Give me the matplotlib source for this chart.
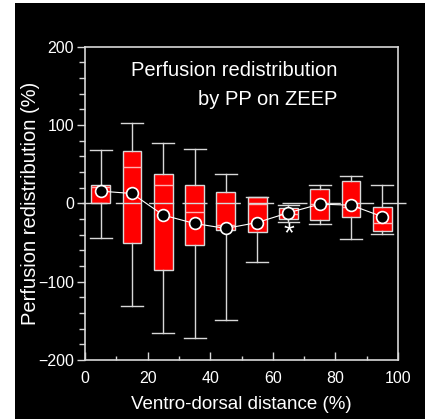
import matplotlib.pyplot as plt
from matplotlib.patches import Rectangle

# ventro-dorsal position of each lung slice (%)
positions = [5, 15, 25, 35, 45, 55, 65, 75, 85, 95]

# box statistics per slice (% redistribution)
whisker_hi = [67.5, 103, 76.5, 69, 37, 8.3, -2.3, 24, 35, 23]
q3 = [24, 67, 37, 24, 14, 8.3, -5.3, 17.8, 28.8, -4.4]
medians = [21, 45.8, 23.3, -10.8, -28, -1, -14, -0.6, -5, -24.5]
q1 = [0, -51, -85.4, -53.4, -33.4, -37, -20.6, -21.5, -18, -35.5]
whisker_lo = [-44, -131.4, -165.5, -171.5, -149, -75, -23.6, -26.6, -46, -39.4]
means = [15.6, 12.6, -15, -25.7, -32, -24.5, -12, -1, -2.3, -17]

significant = [65]
asterisk_y = -40

fg = '#d8d8d8'
plt.rcParams['font.family'] = ['Liberation Sans', 'DejaVu Sans']

fig = plt.figure(figsize=(4.25, 4.19), dpi=100, facecolor='white')
fig.patches.append(Rectangle((15 / 425, 0), 1, 416 / 419, transform=fig.transFigure,
                             facecolor='black', edgecolor='none', zorder=-10))
ax = fig.add_axes([0.2, 0.1408, 0.7365, 0.7477])
ax.set_facecolor('black')

stats = []
for i in range(len(positions)):
    stats.append(dict(med=medians[i], q1=q1[i], q3=q3[i],
                      whislo=whisker_lo[i], whishi=whisker_hi[i], fliers=[]))

ax.bxp(stats, positions=positions, widths=6, capwidths=7, patch_artist=True,
       manage_ticks=False,
       boxprops=dict(facecolor='#ff0000', edgecolor=fg, linewidth=1),
       medianprops=dict(color='#ffb0b0', linewidth=1),
       whiskerprops=dict(color=fg, linewidth=1),
       capprops=dict(color=fg, linewidth=1))

# zero reference line
ax.plot([-1, 102.5], [0, 0], color=fg, lw=1, linestyle=(0, (18, 6)),
        clip_on=False, zorder=4)

# mean values joined by a line
ax.plot(positions, means, color='white', lw=0.8, zorder=5)
ax.plot(positions, means, 'o', ms=8.5, mfc='black', mec='white', mew=1.2, zorder=6)

for xs in significant:
    ax.text(xs, asterisk_y, '*', color='white', fontsize=20, ha='center', va='center')

ax.text(80.6, 170, 'Perfusion redistribution', color='white', fontsize=14.5,
        ha='right', va='center')
ax.text(80.6, 132, 'by PP on ZEEP', color='white', fontsize=14.5,
        ha='right', va='center')

ax.set_xlim(0, 100)
ax.set_ylim(-200, 200)
ax.set_xticks([0, 20, 40, 60, 80, 100])
ax.set_xticks([10, 30, 50, 70, 90], minor=True)
ax.set_yticks([-200, -100, 0, 100, 200])
ax.set_yticks(range(-180, 200, 20), minor=True)

for s in ax.spines.values():
    s.set_color(fg)
    s.set_linewidth(1.2)

ax.tick_params(axis='x', which='both', direction='in', colors=fg, labelcolor='white',
               labelsize=11.5, pad=8)
ax.tick_params(axis='x', which='major', length=6, width=1)
ax.tick_params(axis='x', which='minor', length=3, width=1)
ax.tick_params(axis='y', which='both', direction='out', colors=fg, labelcolor='white',
               labelsize=11.5, pad=2)
ax.tick_params(axis='y', which='major', length=6, width=1)
ax.tick_params(axis='y', which='minor', length=4, width=1)

ax.set_xlabel('Ventro-dorsal distance (%)', color='white', fontsize=13.5, labelpad=7)
ax.set_ylabel('Perfusion redistribution (%)', color='white', fontsize=14.5)
ax.yaxis.set_label_coords(-0.145, 0.5)

fig.savefig('out.png', dpi=100, facecolor=fig.get_facecolor())
